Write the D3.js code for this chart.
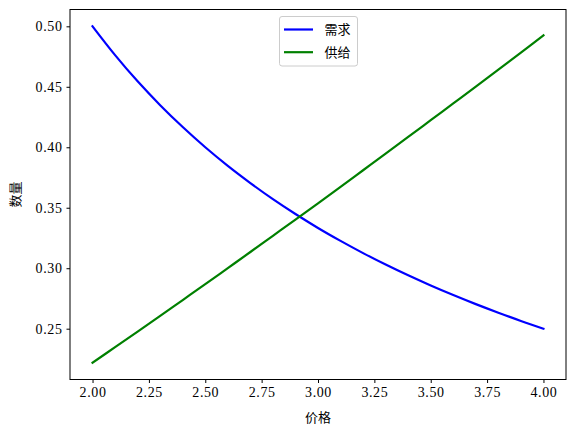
<!DOCTYPE html>
<html><head><meta charset="utf-8">
<script src="https://cdn.jsdelivr.net/npm/d3@7"></script>
<style>
html,body{margin:0;padding:0;background:#fff;}
svg{display:block;}
.tick text{font-family:"Liberation Serif","DejaVu Serif",serif;font-size:14px;letter-spacing:0.6px;fill:#000;}
.cjk{font-family:"Noto Sans CJK SC","Noto Sans",sans-serif;font-size:13px;fill:#000;}
</style></head>
<body>
<svg id="chart" width="575" height="436"></svg>
<script>
const prices = [2.0,2.1,2.2,2.3,2.4,2.5,2.6,2.7,2.8,2.9,3.0,3.1,3.2,3.3,3.4,3.5,3.6,3.7,3.8,3.9,4.0];
const demand = [0.5000,0.4762,0.4545,0.4348,0.4167,0.4000,0.3846,0.3704,0.3571,0.3448,0.3333,0.3226,0.3125,0.3030,0.2941,0.2857,0.2778,0.2703,0.2632,0.2564,0.2500];
const supply = [0.2219,0.2347,0.2476,0.2606,0.2737,0.2868,0.3001,0.3134,0.3268,0.3402,0.3537,0.3673,0.3810,0.3947,0.4085,0.4224,0.4363,0.4502,0.4642,0.4783,0.4925];
const xTicks = [2.00,2.25,2.50,2.75,3.00,3.25,3.50,3.75,4.00];
const yTicks = [0.25,0.30,0.35,0.40,0.45,0.50];
const seriesNames = ["需求","供给"];
const seriesColors = ["#0000ff","#008000"];
const xLabel = "价格", yLabel = "数量";

const svg = d3.select("#chart");
const L = 70, R = 566, T = 9.5, B = 379.5;

const xMin = d3.min(prices), xMax = d3.max(prices);
const xPad = (xMax - xMin) * 0.05;
const allY = demand.concat(supply);
const yMin = d3.min(allY), yMax = d3.max(allY);
const yPad = (yMax - yMin) * 0.05;

const x = d3.scaleLinear().domain([xMin - xPad, xMax + xPad]).range([L, R]);
const y = d3.scaleLinear().domain([yMin - yPad, yMax + yPad]).range([B, T]);

const xAxis = svg.append("g").attr("transform", `translate(0,${B})`)
  .call(d3.axisBottom(x).tickValues(xTicks).tickFormat(d3.format(".2f")).tickSize(3.5).tickPadding(4));
const yAxis = svg.append("g").attr("transform", `translate(${L},0)`)
  .call(d3.axisLeft(y).tickValues(yTicks).tickFormat(d3.format(".2f")).tickSize(3.5).tickPadding(4));
[xAxis, yAxis].forEach(a => { a.select(".domain").remove(); a.selectAll("line").attr("stroke","#000").attr("stroke-width",1); });

const line = vals => d3.line().curve(d3.curveCatmullRom.alpha(0.5)).x((d,i) => x(prices[i])).y(d => y(d))(vals);
[demand, supply].forEach((vals, k) => {
  svg.append("path").attr("d", line(vals)).attr("fill","none")
    .attr("stroke", seriesColors[k]).attr("stroke-width", 2.2).attr("stroke-linecap","square");
});

svg.append("rect").attr("x", L).attr("y", T).attr("width", R - L).attr("height", B - T)
  .attr("fill","none").attr("stroke","#000").attr("stroke-width",1);

svg.append("text").attr("class","cjk").attr("x", (L + R) / 2).attr("y", 422).attr("text-anchor","middle").text(xLabel);
svg.append("text").attr("class","cjk").attr("transform", `translate(20,${(T + B) / 2}) rotate(-90)`)
  .attr("text-anchor","middle").text(yLabel);

const lg = svg.append("g");
lg.append("rect").attr("x", 279.5).attr("y", 16.5).attr("width", 78).attr("height", 49.5)
  .attr("rx", 2.5).attr("fill","#fff").attr("fill-opacity",0.8).attr("stroke","#cccccc").attr("stroke-width",1);
seriesNames.forEach((n, k) => {
  const yy = 29.5 + k * 22.7;
  lg.append("line").attr("x1", 284).attr("x2", 313).attr("y1", yy).attr("y2", yy)
    .attr("stroke", seriesColors[k]).attr("stroke-width", 2.2);
  lg.append("text").attr("class","cjk").attr("x", 324.5).attr("y", yy + 4.6).text(n);
});
</script>
</body></html>
